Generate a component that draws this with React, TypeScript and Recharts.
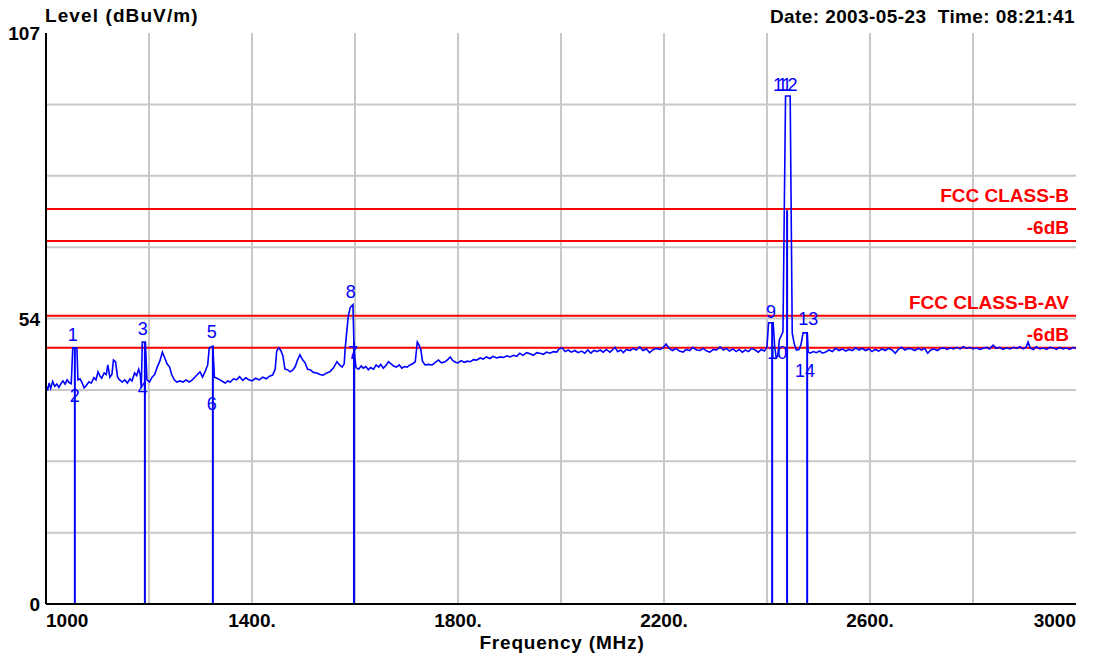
import {
  ComposedChart,
  Line,
  XAxis,
  YAxis,
  ReferenceLine,
  ReferenceDot,
} from 'recharts';

// spectrum sweep, [frequency MHz, level dBuV/m]
const trace: [number, number][] = [
  [1000, 41.0], [1003, 40.0], [1006, 41.4], [1009, 40.4], [1013, 41.7], [1017, 40.8], [1021, 41.2], [1025, 40.6],
  [1029, 41.3], [1033, 41.8], [1037, 41.2], [1041, 42.0], [1045, 41.5], [1049, 41.3], [1052, 48.0], [1060, 48.0],
  [1062, 42.0], [1066, 42.2], [1070, 41.5], [1074, 40.5], [1078, 40.9], [1083, 41.6], [1088, 41.4], [1093, 42.4],
  [1097, 42.0], [1101, 43.5], [1105, 42.7], [1108, 42.3], [1113, 43.3], [1117, 43.0], [1120, 44.8], [1124, 42.5],
  [1128, 43.0], [1131, 45.7], [1135, 45.4], [1139, 42.5], [1143, 42.0], [1148, 41.6], [1153, 42.0], [1158, 41.4],
  [1163, 42.2], [1167, 41.8], [1172, 43.3], [1176, 42.8], [1180, 44.0], [1183, 43.0], [1185, 40.5], [1187, 49.1],
  [1193, 49.1], [1196, 42.0], [1201, 41.6], [1206, 42.5], [1211, 43.0], [1216, 44.4], [1221, 45.5], [1226, 47.2],
  [1231, 46.0], [1235, 45.0], [1240, 44.4], [1244, 43.0], [1249, 42.0], [1254, 41.6], [1260, 41.8], [1266, 41.6],
  [1272, 42.0], [1278, 41.6], [1283, 41.9], [1289, 42.5], [1294, 43.0], [1299, 43.5], [1304, 42.5], [1309, 43.6],
  [1314, 44.8], [1317, 48.0], [1324, 48.3], [1327, 42.5], [1332, 42.3], [1338, 42.0], [1343, 41.7], [1348, 41.4],
  [1353, 41.8], [1358, 41.6], [1364, 42.2], [1370, 42.0], [1376, 42.6], [1382, 41.9], [1388, 42.4], [1394, 42.0],
  [1400, 41.8], [1407, 42.3], [1414, 42.0], [1421, 42.5], [1428, 42.2], [1434, 42.7], [1440, 42.9], [1445, 44.0],
  [1448, 47.4], [1452, 48.0], [1456, 47.5], [1460, 46.5], [1464, 44.0], [1469, 43.9], [1474, 43.5], [1479, 43.8],
  [1484, 44.5], [1488, 45.6], [1493, 46.7], [1498, 45.8], [1503, 45.2], [1508, 44.0], [1513, 43.9], [1519, 43.4],
  [1526, 43.3], [1532, 43.0], [1538, 42.9], [1545, 43.3], [1551, 43.5], [1558, 44.2], [1565, 45.4], [1570, 44.8],
  [1575, 44.4], [1579, 45.0], [1581, 48.0], [1584, 51.0], [1587, 54.0], [1591, 55.6], [1596, 56.1], [1598, 48.5],
  [1600, 46.0], [1602, 44.3], [1607, 44.0], [1612, 44.6], [1616, 44.2], [1621, 44.5], [1626, 43.9], [1630, 44.3],
  [1636, 44.0], [1641, 44.8], [1646, 44.4], [1650, 44.9], [1655, 44.2], [1660, 44.7], [1665, 45.4], [1670, 45.0],
  [1675, 44.6], [1680, 44.4], [1686, 44.8], [1691, 44.2], [1696, 44.5], [1701, 44.4], [1707, 44.8], [1712, 45.0],
  [1717, 45.4], [1721, 49.1], [1724, 48.6], [1728, 47.6], [1731, 45.5], [1736, 44.8], [1742, 44.9], [1750, 44.8],
  [1756, 45.3], [1762, 45.7], [1768, 45.2], [1775, 45.4], [1780, 45.8], [1785, 46.3], [1790, 45.6], [1795, 45.3],
  [1800, 45.2], [1806, 45.6], [1812, 45.3], [1818, 45.5], [1824, 45.4], [1830, 45.8], [1836, 45.7], [1843, 46.1],
  [1849, 45.9], [1855, 46.3], [1862, 46.0], [1868, 46.4], [1875, 46.1], [1882, 46.3], [1888, 46.2], [1895, 46.5],
  [1901, 46.3], [1908, 46.6], [1914, 46.4], [1920, 47.0], [1926, 46.6], [1933, 47.1], [1940, 46.9], [1946, 46.6],
  [1953, 47.1], [1959, 47.0], [1966, 46.8], [1972, 47.2], [1979, 47.0], [1985, 47.3], [1992, 47.2], [1996, 47.8],
  [2002, 48.0], [2008, 47.3], [2014, 47.6], [2020, 47.2], [2027, 47.5], [2033, 47.1], [2040, 47.4], [2046, 47.0],
  [2052, 47.6], [2058, 47.0], [2064, 47.5], [2070, 47.3], [2076, 47.6], [2082, 47.2], [2088, 47.7], [2095, 47.2],
  [2100, 47.6], [2105, 48.1], [2110, 47.3], [2116, 47.6], [2121, 47.1], [2127, 47.7], [2134, 47.5], [2140, 47.9],
  [2146, 47.6], [2153, 48.2], [2159, 47.5], [2166, 47.8], [2172, 47.1], [2178, 47.6], [2185, 47.9], [2192, 47.7],
  [2198, 48.0], [2204, 48.7], [2210, 47.9], [2217, 47.5], [2223, 47.9], [2230, 47.4], [2237, 47.2], [2243, 47.7],
  [2250, 47.5], [2256, 48.1], [2263, 47.6], [2270, 47.5], [2276, 47.9], [2283, 47.4], [2289, 47.2], [2296, 47.7],
  [2302, 47.6], [2309, 48.2], [2315, 47.6], [2321, 47.9], [2327, 47.4], [2334, 47.8], [2340, 47.3], [2346, 47.7],
  [2352, 47.2], [2358, 47.6], [2364, 47.3], [2370, 47.9], [2377, 47.6], [2383, 47.2], [2389, 47.7], [2395, 47.4],
  [2400, 48.2], [2403, 52.7], [2412, 52.7], [2415, 48.2], [2418, 46.1], [2421, 46.5], [2424, 49.5], [2431, 51.0],
  [2436, 95.2], [2445, 95.2], [2449, 50.8], [2453, 48.7], [2457, 47.6], [2462, 47.7], [2466, 48.6], [2470, 50.8],
  [2478, 50.8], [2480, 47.2], [2484, 47.0], [2490, 47.3], [2496, 47.1], [2502, 47.4], [2508, 47.0], [2514, 47.2],
  [2520, 47.6], [2527, 47.3], [2533, 47.9], [2540, 47.5], [2546, 47.8], [2553, 47.4], [2559, 47.7], [2566, 47.5],
  [2572, 48.0], [2579, 47.6], [2585, 47.9], [2591, 47.5], [2598, 47.8], [2604, 47.3], [2610, 47.7], [2617, 47.4],
  [2623, 47.8], [2630, 47.5], [2636, 47.9], [2643, 47.6], [2649, 47.0], [2655, 47.7], [2661, 48.1], [2668, 47.6],
  [2674, 47.9], [2681, 47.8], [2687, 47.5], [2694, 47.9], [2700, 47.6], [2706, 47.9], [2712, 47.0], [2718, 47.6],
  [2724, 47.8], [2731, 47.5], [2737, 47.9], [2743, 48.0], [2750, 47.7], [2756, 48.0], [2762, 47.8], [2769, 48.1],
  [2775, 47.8], [2781, 48.2], [2788, 47.9], [2794, 48.1], [2800, 47.8], [2807, 48.0], [2813, 47.7], [2819, 47.9],
  [2826, 48.1], [2832, 47.8], [2839, 48.5], [2845, 47.9], [2852, 48.1], [2858, 47.7], [2865, 48.0], [2872, 47.8],
  [2878, 48.1], [2885, 47.9], [2891, 48.2], [2897, 47.8], [2903, 48.1], [2907, 49.1], [2911, 48.0], [2917, 47.7],
  [2923, 48.2], [2930, 47.8], [2936, 48.0], [2943, 47.7], [2949, 48.1], [2955, 48.0], [2962, 47.7], [2968, 48.1],
  [2975, 47.8], [2981, 48.0], [2988, 47.7], [2994, 48.1], [3000, 47.9],
];

// limit lines
const limits = [
  { name: 'FCC CLASS-B', level: 74 },
  { name: '-6dB', level: 68 },
  { name: 'FCC CLASS-B-AV', level: 54 },
  { name: '-6dB', level: 48 },
];

// measured readings, drawn as lines from the floor
const readings = [
  { f: 1056, level: 48.0 },
  { f: 1192, level: 49.1 },
  { f: 1324, level: 48.3 },
  { f: 1598, level: 49.1 },
  { f: 2410, level: 52.7 },
  { f: 2439, level: 73.8 },
  { f: 2478, level: 50.8 },
];

const markers = [
  { id: '1', f: 1052, level: 48.0, side: 'top' },
  { id: '2', f: 1056, level: 41.0, side: 'bottom' },
  { id: '3', f: 1188, level: 49.1, side: 'top' },
  { id: '4', f: 1188, level: 42.4, side: 'bottom' },
  { id: '5', f: 1322, level: 48.5, side: 'top' },
  { id: '6', f: 1322, level: 39.5, side: 'bottom' },
  { id: '7', f: 1596, level: 49.1, side: 'bottom' },
  { id: '8', f: 1592, level: 56.0, side: 'top' },
  { id: '9', f: 2408, level: 52.3, side: 'top' },
  { id: '10', f: 2420, level: 49.1, side: 'bottom' },
  { id: '11', f: 2430, level: 94.8, side: 'top' },
  { id: '12', f: 2440, level: 94.8, side: 'top' },
  { id: '13', f: 2480, level: 51.0, side: 'top' },
  { id: '14', f: 2474, level: 45.7, side: 'bottom' },
];

const xTicks = [1000, 1400, 1800, 2200, 2600, 3000];
const xTickLabels = ['1000', '1400.', '1800.', '2200.', '2600.', '3000'];
const yTicks = [0, 53.5, 107];
const gridX = [1200, 1400, 1600, 1800, 2000, 2200, 2400, 2600, 2800];
const gridY = [13.375, 26.75, 40.125, 53.5, 66.875, 80.25, 93.625];

const data = trace.map(([f, level]) => ({ f, level }));

const FONT = '"Liberation Sans", Arial, sans-serif';
const BLUE = '#0000ff';
const RED = '#ff0000';
const GRID = '#c8c8c8';

const FreqTick = (props: any) => {
  const { x, y, payload } = props;
  const i = xTicks.indexOf(payload.value);
  const anchor = i === 0 ? 'start' : i === xTicks.length - 1 ? 'end' : 'middle';
  return (
    <text x={x} y={y} dy={23} textAnchor={anchor} fontFamily={FONT} fontWeight="bold" fontSize={19} fill="#000">
      {xTickLabels[i]}
    </text>
  );
};

const LevelTick = (props: any) => {
  const { x, y, payload } = props;
  return (
    <text x={x} y={y} dy={7} textAnchor="end" fontFamily={FONT} fontWeight="bold" fontSize={19} fill="#000">
      {Math.round(payload.value)}
    </text>
  );
};

export default function App() {
  return (
    <div style={{ position: 'absolute', left: 0, top: 0, width: 1101, height: 656, background: '#fff' }}>
      <ComposedChart width={1101} height={656} data={data} margin={{ top: 33, right: 25, bottom: 0, left: 0 }}>
        <XAxis
          xAxisId="f"
          dataKey="f"
          type="number"
          domain={[1000, 3000]}
          ticks={xTicks}
          interval={0}
          height={52}
          tickSize={0}
          tickMargin={0}
          tick={<FreqTick />}
          axisLine={{ stroke: '#000', strokeWidth: 2 }}
        />
        <XAxis
          xAxisId="top"
          orientation="top"
          type="number"
          domain={[1000, 3000]}
          height={0}
          tick={false}
          tickLine={false}
          axisLine={{ stroke: '#000', strokeWidth: 2 }}
        />
        <YAxis
          yAxisId="lv"
          type="number"
          domain={[0, 107]}
          ticks={yTicks}
          interval={0}
          width={46}
          tickSize={0}
          tickMargin={6}
          tick={<LevelTick />}
          axisLine={{ stroke: '#000', strokeWidth: 2 }}
        />
        <YAxis
          yAxisId="right"
          orientation="right"
          type="number"
          domain={[0, 107]}
          width={0}
          tick={false}
          tickLine={false}
          axisLine={{ stroke: '#000', strokeWidth: 2 }}
        />
        {gridX.map((v) => (
          <ReferenceLine key={'gx' + v} xAxisId="f" yAxisId="lv" x={v} stroke={GRID} strokeWidth={2} />
        ))}
        {gridY.map((v) => (
          <ReferenceLine key={'gy' + v} xAxisId="f" yAxisId="lv" y={v} stroke={GRID} strokeWidth={2} />
        ))}
        {limits.map((l, i) => (
          <ReferenceLine
            key={'l' + i}
            xAxisId="f"
            yAxisId="lv"
            y={l.level}
            stroke={RED}
            strokeWidth={2}
            label={{
              value: l.name,
              position: 'insideBottomRight',
              offset: 7,
              fill: RED,
              fontFamily: FONT,
              fontWeight: 'bold',
              fontSize: 19,
            }}
          />
        ))}
        {readings.map((r, i) => (
          <ReferenceLine
            key={'r' + i}
            xAxisId="f"
            yAxisId="lv"
            segment={[{ x: r.f, y: 0 }, { x: r.f, y: r.level }]}
            stroke={BLUE}
            strokeWidth={2}
          />
        ))}
        <Line
          xAxisId="f"
          yAxisId="lv"
          type="linear"
          dataKey="level"
          stroke={BLUE}
          strokeWidth={1.6}
          dot={false}
          isAnimationActive={false}
        />
        {markers.map((m) => (
          <ReferenceDot
            key={'m' + m.id}
            xAxisId="f"
            yAxisId="lv"
            x={m.f}
            y={m.level}
            r={0}
            stroke="none"
            fill="none"
            label={{
              value: m.id,
              position: m.side as any,
              offset: m.side === 'top' ? 7 : 4,
              fill: BLUE,
              fontFamily: FONT,
              fontSize: 18,
            }}
          />
        ))}
      </ComposedChart>
      <svg
        width={1101}
        height={656}
        style={{ position: 'absolute', left: 0, top: 0, pointerEvents: 'none' }}
        fontFamily={FONT}
        fontWeight="bold"
        fontSize={19}
      >
        <text x={45} y={22} letterSpacing={1.1}>Level (dBuV/m)</text>
        <text x={1075} y={23} textAnchor="end" letterSpacing={0.4}>Date: 2003-05-23&#160;&#160;Time: 08:21:41</text>
        <text x={562} y={649} textAnchor="middle" letterSpacing={0.8}>Frequency (MHz)</text>
      </svg>
    </div>
  );
}
